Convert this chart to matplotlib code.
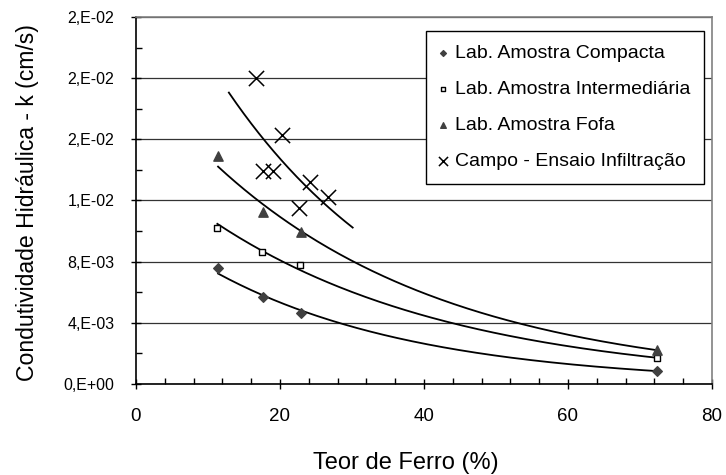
import numpy as np
import matplotlib
matplotlib.use("Agg")
import matplotlib.pyplot as plt
from matplotlib.ticker import MultipleLocator, FuncFormatter

plt.rcParams['font.family'] = ['Liberation Sans', 'DejaVu Sans']

# teor de ferro (%) x condutividade hidraulica (cm/s)
x_compacta = [11.4, 17.6, 22.9, 72.4]
k_compacta = [0.00758, 0.00569, 0.00464, 0.00085]

x_interm = [11.3, 17.5, 22.8, 72.4]
k_interm = [0.0102, 0.00863, 0.00778, 0.0017]

x_fofa = [11.4, 17.6, 22.9, 72.4]
k_fofa = [0.0149, 0.01124, 0.00993, 0.00222]

x_campo = [16.7, 20.3, 17.6, 19.0, 24.2, 26.7, 22.6]
k_campo = [0.0200, 0.01627, 0.01392, 0.01392, 0.0132, 0.01222, 0.0115]

labels = ['Lab. Amostra Compacta', 'Lab. Amostra Intermediária',
          'Lab. Amostra Fofa', 'Campo - Ensaio Infiltração']


def expo_fit(x, y, x0, x1):
    # linha de tendencia exponencial (regressao de ln y em x)
    b, loga = np.polyfit(x, np.log(y), 1)
    xx = np.linspace(x0, x1, 200)
    return xx, np.exp(loga + b * xx)


def sci_fmt(v, pos):
    if v == 0:
        return '0,E+00'
    e = int(np.floor(np.log10(abs(v)) + 1e-9))
    m = v / 10 ** e
    return '%d,E%+03d' % (round(m), e)


fig = plt.figure(figsize=(7.26, 4.75), dpi=100)
ax = fig.add_axes([0.1873, 0.1916, 0.7934, 0.7726])

ax.scatter(x_compacta, k_compacta, marker='D', s=24, c='#404040', zorder=3, label=labels[0])
ax.scatter(x_interm, k_interm, marker='s', s=24, facecolors='white', edgecolors='black',
           linewidths=1.0, zorder=3, label=labels[1])
ax.scatter(x_fofa, k_fofa, marker='^', s=45, c='#404040', zorder=3, label=labels[2])
ax.scatter(x_campo, k_campo, marker='x', s=120, c='black', linewidths=1.1, zorder=3, label=labels[3])

for xs, ks in [(x_compacta, k_compacta), (x_interm, k_interm), (x_fofa, k_fofa)]:
    xx, yy = expo_fit(xs, ks, min(xs), max(xs))
    ax.plot(xx, yy, color='black', lw=1.3, zorder=2)
xx, yy = expo_fit(x_campo, k_campo, 12.9, 30.1)
ax.plot(xx, yy, color='black', lw=1.3, zorder=2)

ax.set_xlim(0, 80)
ax.set_ylim(0, 0.024)
ax.xaxis.set_major_locator(MultipleLocator(20))
ax.xaxis.set_minor_locator(MultipleLocator(4))
ax.yaxis.set_major_locator(MultipleLocator(0.004))
ax.yaxis.set_minor_locator(MultipleLocator(0.002))
ax.yaxis.set_major_formatter(FuncFormatter(sci_fmt))

ax.tick_params(axis='both', which='major', direction='inout', length=7, width=1)
ax.tick_params(axis='both', which='minor', direction='in', length=4, width=1)
ax.tick_params(axis='x', pad=14, labelsize=13.5)
ax.tick_params(axis='y', pad=12, labelsize=11.5)

ax.grid(axis='y', which='major', color='#333333', lw=0.9)
ax.set_axisbelow(True)
for s in ['top', 'right']:
    ax.spines[s].set_color('#808080')
    ax.spines[s].set_linewidth(1.2)
for s in ['left', 'bottom']:
    ax.spines[s].set_color('black')
    ax.spines[s].set_linewidth(1.2)

ax.set_xlabel('Teor de Ferro (%)', fontsize=17)
ax.xaxis.set_label_coords(0.469, -0.186)
ax.set_ylabel('Condutividade Hidráulica - k (cm/s)', fontsize=16.6)
ax.yaxis.label.set_va('center')
ax.yaxis.set_label_coords(-0.188, 0.495)

leg = ax.legend(loc='upper right', bbox_to_anchor=(0.986, 0.962), fontsize=14,
                frameon=True, fancybox=False, edgecolor='black', framealpha=1,
                handletextpad=0.4, handlelength=0.4, labelspacing=0.95,
                borderpad=0.7, borderaxespad=0, markerscale=0.6)
leg.get_frame().set_linewidth(1.0)

fig.savefig('out.png', dpi=100)
